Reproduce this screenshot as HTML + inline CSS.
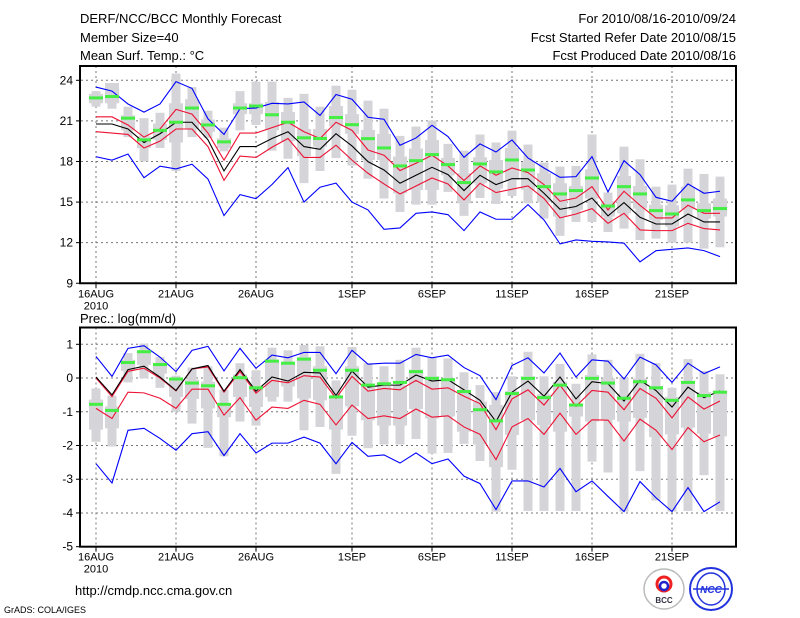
<!DOCTYPE html>
<html><head><meta charset="utf-8"><style>
html,body{margin:0;padding:0;background:#fff;}
svg{display:block;font-family:"Liberation Sans",sans-serif;}
</style></head><body>
<svg id="chart" width="800" height="618" viewBox="0 0 800 618" xmlns="http://www.w3.org/2000/svg">
<text x="80" y="23" font-size="13">DERF/NCC/BCC Monthly Forecast</text>
<text x="80" y="42" font-size="13">Member Size=40</text>
<text x="80" y="60" font-size="13">Mean Surf. Temp.: °C</text>
<text x="736" y="23" font-size="13" text-anchor="end">For 2010/08/16-2010/09/24</text>
<text x="736" y="42" font-size="13" text-anchor="end">Fcst Started Refer Date 2010/08/15</text>
<text x="736" y="60" font-size="13" text-anchor="end">Fcst Produced Date 2010/08/16</text>
<text x="80" y="323" font-size="13">Prec.: log(mm/d)</text>
<text x="75" y="595" font-size="13">http://cmdp.ncc.cma.gov.cn</text>
<text x="4" y="613" font-size="9">GrADS: COLA/IGES</text>
<g>
<circle cx="664" cy="589" r="20" fill="#fff" stroke="#bbb" stroke-width="1.5"/>
<circle cx="664" cy="584" r="7" fill="none" stroke="#e22" stroke-width="3"/>
<circle cx="664" cy="586" r="4" fill="none" stroke="#22c" stroke-width="2.5"/>
<text x="664" y="603" font-size="8" font-weight="bold" text-anchor="middle" fill="#334">BCC</text>
</g>
<g>
<circle cx="711" cy="589" r="21" fill="#fff" stroke="#23d" stroke-width="2"/>
<ellipse cx="711" cy="589" rx="14" ry="16" fill="none" stroke="#23d" stroke-width="1.5"/>
<line x1="693" y1="589" x2="729" y2="589" stroke="#23d" stroke-width="1.5"/>
<text x="711" y="593" font-size="10" font-weight="bold" font-style="italic" text-anchor="middle" fill="#23d">NCC</text>
</g>
<g id="top"></g>
<g id="bot"></g>
</svg>
<script>
// ---- Temperature panel data ----
const tMean=[20.77,20.77,20.4,19.4,20.05,20.9,20.9,19.6,17.3,19.1,19.1,19.7,20.2,19.1,18.9,20.05,19.15,17.99,17.37,16.39,16.98,17.57,17.03,15.85,16.98,16.29,16.73,16.73,15.65,14.47,14.67,15.3,13.98,14.96,13.88,13.38,13.38,14.12,13.53,13.53];
const tRedHi=[21.3,21.3,20.7,19.8,20.4,21.85,21.5,20.1,18.1,20.1,20.1,20.5,20.9,20.2,19.7,20.9,20.3,18.85,18.46,17.33,17.87,18.46,17.67,16.59,17.67,16.98,17.52,17.18,16.29,15.06,15.3,16.14,14.42,15.8,14.76,13.83,13.83,14.76,14.17,14.17];
const tRedLo=[20.2,20.1,20,19,19.5,20.4,20.4,19.1,16.6,18.4,18.3,19.05,19.7,18.3,18.3,19.2,18.1,17.13,16.34,15.6,16.19,16.78,16.34,15.16,16.39,15.7,15.95,16.19,15.26,13.83,14.12,14.52,13.43,14.17,12.94,12.89,12.89,13.43,13.04,12.94];
const tBlueHi=[23.5,23.2,22.25,21.65,22.25,23.9,23.4,21.15,20,21.9,21.95,22.3,22.25,22.4,21.4,22.95,22.6,21.27,21.12,19.2,19.74,20.67,19.84,18.31,19.3,18.7,19.59,18.26,17.52,16.83,16.88,18.36,15.75,18.06,17.03,15.35,15.06,16.34,15.65,15.8];
const tBlueLo=[18.35,18.1,18.55,16.8,17.65,17.45,17.8,16.7,14,15.55,15.25,16.3,17.55,15,16.1,16.4,15,14.42,12.99,13.09,14.17,14.27,14.07,12.89,14.27,13.73,13.73,14.81,13.68,11.91,12.2,12.1,12.05,11.96,10.58,11.41,11.51,11.61,11.41,10.97];
const tObs=[22.7,22.8,21.2,19.6,20.3,20.9,21.95,20.7,19.45,21.95,22.1,21.45,20.9,19.75,19.7,21.25,20.72,19.69,19,17.67,18.06,18.51,17.77,16.44,17.82,17.23,18.11,17.37,16.14,15.6,15.85,16.78,14.71,16.14,15.6,14.37,14.12,15.16,14.37,14.52];
const tWhHi=[23.2,23.8,22.05,21.2,21.6,24.5,23.5,21.75,20.5,23.2,23.9,23.9,22.7,23,22.05,23.6,23.3,22.5,21.9,19.89,20.58,21.02,19.3,18.8,19.99,19.4,20.28,19.25,17.92,17.62,17.67,19.99,15.7,19.1,18.16,16.14,16.29,17.47,17.08,16.88];
const tWhLo=[22.05,21.9,19.8,18,19,17.3,19.8,19.75,18.75,20.3,20.7,18.8,18.2,16.4,17.3,18.25,17.7,16.73,15.26,14.27,14.81,14.81,15.75,13.98,15.3,14.86,15.45,14.91,13.78,12.5,13.53,13.53,12.79,13.04,12.2,12.3,12,12,11.56,11.66];
const tBoxHi=[23,23.8,21.4,19.85,20.8,22.3,22.6,21.1,19.7,22.3,22.3,22.4,21.65,20.4,20.4,22.1,21.5,20.33,20.03,18.36,18.95,19.59,18.26,17.13,18.31,18.11,19,17.96,17.13,16.39,16.19,17.42,15.06,16.93,16.19,14.81,14.76,16.14,14.91,15.26];
const tBoxLo=[22.3,22.3,20.3,19,19.6,19.4,20.4,20.2,19,21.5,21.5,20.3,19.5,18.4,19.1,20.6,20.05,18.11,18.11,15.65,15.9,15.9,16.98,14.91,16.39,15.99,16.64,15.9,15.01,13.93,14.42,15.26,13.93,14.17,14.52,13.68,13.19,14.47,13.78,13.93];
const tTicks=[9,12,15,18,21,24];
// ---- Precipitation panel data ----
const pMean=[0.03,-0.5,0.25,0.35,0.03,-0.37,0.27,0.37,-0.39,0.25,-0.39,0.03,-0.09,0.17,0.15,-0.52,0.21,-0.27,-0.21,-0.21,0.09,-0.09,-0.05,-0.35,-0.66,-1.29,-0.42,-0.09,-0.54,0.03,-0.62,-0.11,-0.17,-0.68,-0.07,-0.37,-0.86,-0.27,-0.58,-0.38];
const pRedHi=[0,-0.55,0.2,0.29,0,-0.38,0.27,0.33,-0.42,0.2,-0.45,-0.07,-0.14,0.07,0.03,-0.6,0.05,-0.39,-0.31,-0.35,-0.07,-0.33,-0.29,-0.54,-0.76,-1.53,-0.62,-0.35,-0.8,-0.21,-0.84,-0.37,-0.42,-0.94,-0.31,-0.6,-1.18,-0.56,-0.92,-0.68];
const pRedLo=[-0.9,-1.2,-0.42,-0.44,-0.6,-0.9,-0.33,-0.33,-1.1,-0.58,-1.25,-0.86,-0.9,-0.66,-0.78,-1.39,-0.8,-1.2,-1.12,-1.2,-0.92,-1.16,-1.12,-1.45,-1.67,-2.42,-1.45,-1.2,-1.67,-1.04,-1.67,-1.24,-1.25,-1.87,-1.22,-1.55,-2.12,-1.47,-1.89,-1.69];
const pBlueHi=[0.64,0.05,0.88,0.96,0.62,0.19,0.82,0.94,0.21,0.88,0.29,0.68,0.6,0.76,0.76,0.13,0.82,0.41,0.44,0.44,0.7,0.6,0.68,0.31,0.07,-0.64,0.37,0.6,0.15,0.74,0.03,0.54,0.5,-0.03,0.62,0.39,-0.13,0.44,0.13,0.33];
const pBlueLo=[-2.54,-3.11,-1.55,-1.49,-1.79,-2.14,-1.65,-1.59,-2.3,-1.65,-2.22,-1.93,-1.93,-1.75,-1.93,-2.54,-1.91,-2.32,-2.28,-2.52,-2.22,-2.54,-2.4,-2.91,-3.13,-3.9,-3.05,-3.05,-3.23,-2.68,-3.37,-3.05,-3.51,-3.96,-3.07,-3.55,-3.96,-3.25,-3.96,-3.67];
const pObs=[-0.78,-0.96,0.46,0.78,0.4,-0.03,-0.15,-0.23,-0.78,0.01,-0.29,0.5,0.44,0.56,0.23,-0.56,0.23,-0.21,-0.17,-0.13,0.19,-0.01,-0.05,-0.4,-0.94,-1.27,-0.46,-0.01,-0.58,-0.21,-0.8,-0.01,-0.15,-0.6,-0.11,-0.29,-0.66,-0.13,-0.52,-0.42];
const pWhHi=[-0.31,-0.52,0.74,1.02,0.62,0.07,0.31,0.35,-0.35,0.44,0.23,0.9,0.82,0.98,0.94,-0.07,0.92,0.44,0.35,0.54,0.9,0.6,0.58,0.17,-0.21,-0.42,0.05,0.78,0.05,0.42,-0.17,0.7,0.54,0.03,0.72,0.44,-0.29,0.56,0.21,0.11];
const pWhLo=[-1.89,-2.03,-0.13,-0.01,-0.29,-1,-1.35,-2.07,-2.32,-1.29,-1.41,-0.7,-0.7,-1.55,-1.45,-2.84,-1.71,-2.08,-1.97,-1.97,-1.81,-2.24,-2.22,-1.95,-2.46,-3.96,-2.72,-3.94,-3.94,-3.94,-3.94,-2.48,-2.8,-3.96,-2.76,-3.63,-3.96,-3.94,-2.88,-3.94];
const pBoxHi=[-0.64,-0.84,0.54,0.78,0.44,-0.05,-0.05,-0.11,-0.82,0.11,-0.29,0.54,0.42,0.62,0.35,-0.54,0.35,-0.21,-0.21,-0.21,0.25,0.05,-0.01,-0.39,-0.7,-0.8,-0.39,0.05,-0.48,-0.11,-0.8,0.09,-0.01,-0.46,-0.01,-0.23,-0.56,-0.11,-0.42,-0.37];
const pBoxLo=[-1.53,-1.49,0.21,0.39,0.13,-0.56,-0.62,-0.9,-1.16,-0.56,-0.86,-0.56,-0.25,-0.6,-0.66,-1.53,-0.84,-1.25,-1.41,-1.41,-0.92,-1.2,-1.14,-1.59,-1.97,-2.64,-1.69,-1.25,-1.39,-1.59,-1.14,-1.29,-1.24,-1.29,-1.18,-1.75,-1.67,-1.47,-1.65,-1.73];
const pTicks=[-5,-4,-3,-2,-1,0,1];
const xLabels=["16AUG","21AUG","26AUG","1SEP","6SEP","11SEP","16SEP","21SEP"];
const xLabelIdx=[0,5,10,16,21,26,31,36];

const NS="http://www.w3.org/2000/svg";
function mk(parent,tag,attrs){const e=document.createElementNS(NS,tag);for(const k in attrs)e.setAttribute(k,attrs[k]);parent.appendChild(e);return e;}
const xS=i=>96+16*i;

function panel(g,cfg){
  const yS=v=>cfg.y0+(cfg.vmax-v)*cfg.k;
  const top=cfg.top,bot=yS(cfg.vmin);
  // grid
  cfg.ticks.forEach(t=>{
    if(t>cfg.vmin){const l=mk(g,'line',{x1:81,x2:735,y1:yS(t),y2:yS(t),stroke:'#777','stroke-dasharray':'2,3','stroke-width':1});
    
    }
    const tx=mk(g,'text',{x:73,y:yS(t)+4,'font-size':12,'text-anchor':'end'});tx.textContent=t;
    
    
    const tk=mk(g,'line',{x1:76,x2:81,y1:yS(t),y2:yS(t),stroke:'#000'});
    
    
  });
  xLabelIdx.forEach((idx,j)=>{
    const l=mk(g,'line',{x1:xS(idx),x2:xS(idx),y1:top,y2:bot,stroke:'#777','stroke-dasharray':'2,3'});
    
    
    const tk=mk(g,'line',{x1:xS(idx),x2:xS(idx),y1:bot,y2:bot+5,stroke:'#000'});
    
    
    const tx=mk(g,'text',{x:xS(idx),y:bot+14,'font-size':11,'text-anchor':'middle'});tx.textContent=xLabels[j];
    
    
  });
  const yr=mk(g,'text',{x:96,y:bot+26,'font-size':11,'text-anchor':'middle'});yr.textContent='2010';
  
  
  // boxes
  for(let i=0;i<cfg.mean.length;i++){
    const w=mk(g,'rect',{x:xS(i)-4.5,y:yS(cfg.whHi[i]),width:9,height:Math.max(1,yS(cfg.whLo[i])-yS(cfg.whHi[i])),fill:'#d4d4d9'});
    
    
    const b=mk(g,'rect',{x:xS(i)-7,y:yS(cfg.boxHi[i]),width:14,height:Math.max(1,yS(cfg.boxLo[i])-yS(cfg.boxHi[i])),fill:'#d4d4d9'});
    
    
  }
  const line=(arr,col,name)=>{const p=mk(g,'polyline',{points:arr.map((v,i)=>xS(i)+','+yS(v)).join(' '),fill:'none',stroke:col,'stroke-width':1.1});
    
    };
  line(cfg.blueLo,'#0000ff','min-line');
  line(cfg.blueHi,'#0000ff','max-line');
  line(cfg.redLo,'#ee1133','lower-spread-line');
  line(cfg.redHi,'#ee1133','upper-spread-line');
  line(cfg.mean,'#000','ensemble-mean-line');
  for(let i=0;i<cfg.obs.length;i++){
    const o=mk(g,'rect',{x:xS(i)-7,y:yS(cfg.obs[i])-1.5,width:14,height:3,fill:'#44ee44'});
    
    
  }
  const f=mk(g,'rect',{x:80,y:top,width:656,height:bot-top,fill:'none',stroke:'#000','stroke-width':2});
  
  
}
panel(document.getElementById('top'),{y0:80.3,vmax:24,vmin:9,k:13.53,top:66,ticks:tTicks,mean:tMean,redHi:tRedHi,redLo:tRedLo,blueHi:tBlueHi,blueLo:tBlueLo,obs:tObs,whHi:tWhHi,whLo:tWhLo,boxHi:tBoxHi,boxLo:tBoxLo});
panel(document.getElementById('bot'),{y0:344.3,vmax:1,vmin:-5,k:33.73,top:327.5,ticks:pTicks,mean:pMean,redHi:pRedHi,redLo:pRedLo,blueHi:pBlueHi,blueLo:pBlueLo,obs:pObs,whHi:pWhHi,whLo:pWhLo,boxHi:pBoxHi,boxLo:pBoxLo});
</script>
</body></html>
